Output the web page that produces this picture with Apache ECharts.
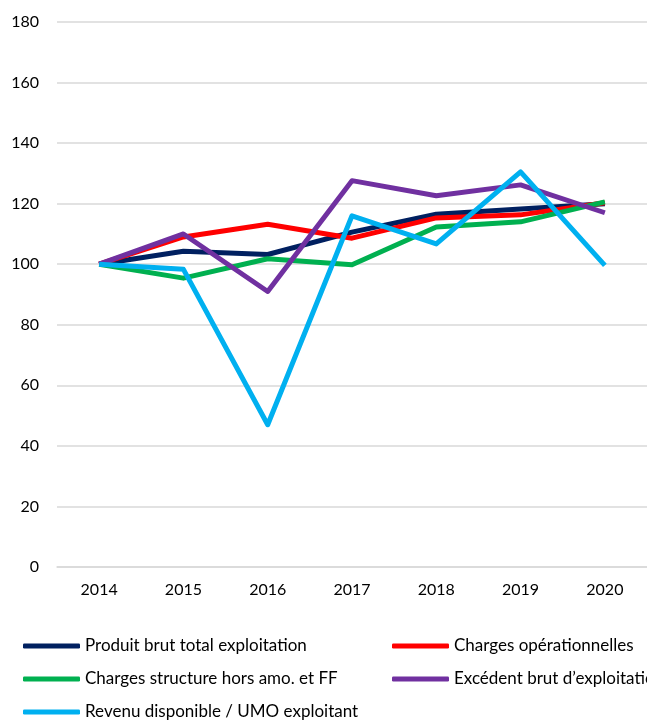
<!DOCTYPE html>
<html><head><meta charset="utf-8">
<script src="https://cdn.jsdelivr.net/npm/echarts@6/dist/echarts.min.js"></script>
<style>html,body{margin:0;padding:0;background:#fff}#c{width:647px;height:720px}</style>
</head><body><div id="c"></div>
<script>
const years = ['2014','2015','2016','2017','2018','2019','2020'];
const produitBrut = [100, 104.3, 103.2, 110.6, 116.5, 118.2, 120.0];
const chargesOp = [100, 109.0, 113.2, 108.6, 115.3, 116.3, 120.3];
const chargesStruct = [100, 95.4, 101.8, 99.8, 112.3, 114.0, 120.6];
const ebe = [100, 110.0, 91.0, 127.6, 122.6, 126.2, 117.0];
const revenu = [100, 98.3, 47.0, 116.0, 106.7, 130.5, 99.6];
const seriesNames = ['Produit brut total exploitation','Charges opérationnelles','Charges structure hors amo. et FF','Excédent brut d’exploitation','Revenu disponible / UMO exploitant'];
const colors = ['#002060','#FF0000','#00B050','#7030A0','#00B0F0'];
const dataSets = [produitBrut, chargesOp, chargesStruct, ebe, revenu];
const font = 'Lato, "Open Sans", sans-serif';
const chart = echarts.init(document.getElementById('c'));
const legendCommon = {
  orient: 'vertical', icon: 'roundRect', itemWidth: 57, itemHeight: 5, itemGap: 13,
  padding: 0, height: 200,
  textStyle: {fontFamily: font, fontSize: 17, lineHeight: 20, color: '#000'}
};
chart.setOption({
  animation: false,
  grid: {left: 57, right: -6, top: 22, bottom: 153, containLabel: false},
  legend: [
    Object.assign({left: 23, top: 636, data: [seriesNames[0], seriesNames[2], seriesNames[4]]}, legendCommon),
    Object.assign({left: 392, top: 636, data: [seriesNames[1], seriesNames[3]]}, legendCommon)
  ],
  xAxis: {
    type: 'category', data: years, boundaryGap: true,
    axisLine: {lineStyle: {color: '#d9d9d9', width: 1.5}},
    axisTick: {show: false},
    axisLabel: {color: '#000', fontFamily: font, fontSize: 16, margin: 15}
  },
  yAxis: {
    type: 'value', min: 0, max: 180, interval: 20,
    axisLine: {show: false}, axisTick: {show: false},
    axisLabel: {color: '#000', fontFamily: font, fontSize: 16, margin: 18},
    splitLine: {lineStyle: {color: '#d9d9d9', width: 1.5}}
  },
  series: dataSets.map((d, i) => ({
    name: seriesNames[i], type: 'line', data: d, showSymbol: false, symbol: 'none',
    lineStyle: {color: colors[i], width: 5, join: 'round'}, itemStyle: {color: colors[i]}
  }))
});
</script></body></html>
